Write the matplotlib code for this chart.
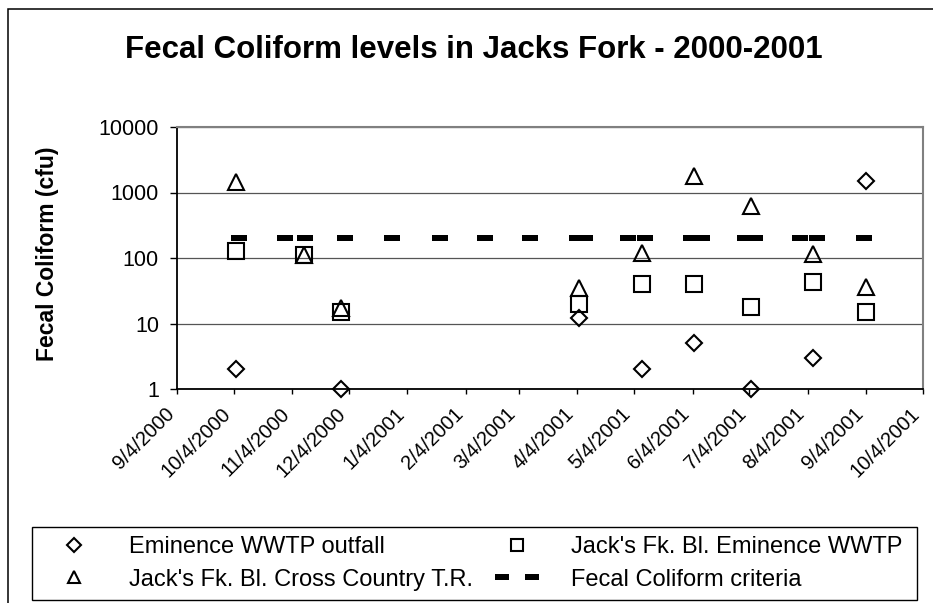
import matplotlib
matplotlib.use("Agg")
import matplotlib.pyplot as plt
from matplotlib.legend_handler import HandlerLine2D
from matplotlib.patches import Rectangle
from matplotlib.transforms import ScaledTranslation
import datetime as dt

plt.rcParams['font.family'] = ['Liberation Sans', 'DejaVu Sans']

# ---------------- data ----------------
sample_dates = ["2000-10-05", "2000-11-10", "2000-11-30", "2001-04-05", "2001-05-08",
                "2001-06-05", "2001-07-05", "2001-08-07", "2001-09-04"]
outfall_dates = ["2000-10-05", "2000-11-30", "2001-04-05", "2001-05-08",
                 "2001-06-05", "2001-07-05", "2001-08-07", "2001-09-04"]
outfall_vals = [2, 1, 12, 2, 5, 1, 3, 1500]
below_wwtp_vals = [130, 110, 15, 20, 40, 40, 18, 43, 15]
cross_country_vals = [1450, 110, 17, 35, 120, 1800, 620, 115, 36]
criteria_dates = ["2000-10-07", "2000-10-31", "2000-11-11", "2000-12-02", "2000-12-27",
                  "2001-01-21", "2001-02-14", "2001-03-10", "2001-04-04", "2001-04-08",
                  "2001-05-01", "2001-05-10", "2001-06-03", "2001-06-09", "2001-07-02",
                  "2001-07-07", "2001-07-31", "2001-08-09", "2001-09-03"]
criteria_vals = [200] * len(criteria_dates)
tick_dates = ["2000-09-04", "2000-10-04", "2000-11-04", "2000-12-04", "2001-01-04",
              "2001-02-04", "2001-03-04", "2001-04-04", "2001-05-04", "2001-06-04",
              "2001-07-04", "2001-08-04", "2001-09-04", "2001-10-04"]
tick_labels = ["9/4/2000", "10/4/2000", "11/4/2000", "12/4/2000", "1/4/2001",
               "2/4/2001", "3/4/2001", "4/4/2001", "5/4/2001", "6/4/2001",
               "7/4/2001", "8/4/2001", "9/4/2001", "10/4/2001"]
y_ticks = [1, 10, 100, 1000, 10000]
y_tick_labels = ["1", "10", "100", "1000", "10000"]
series_names = ["Eminence WWTP outfall", "Jack's Fk. Bl. Eminence WWTP",
                "Jack's Fk. Bl. Cross Country T.R.", "Fecal Coliform criteria"]

def d(s):
    return dt.datetime.strptime(s, "%Y-%m-%d")

W, H = 933, 603
fig = plt.figure(figsize=(W / 100, H / 100), dpi=100)
fig.patch.set_facecolor('white')

# outer chart frame
fig.add_artist(Rectangle((8 / W, -0.05), 1.1, 1 - 9 / H + 0.05, transform=fig.transFigure,
                         fill=False, edgecolor='black', linewidth=1.1, zorder=0))

ax = fig.add_axes([177 / W, 1 - 389 / H, (923 - 177) / W, (389 - 127) / H])
ax.set_yscale('log')
ax.set_ylim(1, 10000)
ax.set_xlim(d(tick_dates[0]), d(tick_dates[-1]))

ms_kw = dict(linestyle='none', markerfacecolor='none', markeredgecolor='black',
             markeredgewidth=1.5, clip_on=False, zorder=5)
h1, = ax.plot([d(s) for s in outfall_dates], outfall_vals, marker='D', markersize=8.5, **ms_kw)
h2, = ax.plot([d(s) for s in sample_dates], below_wwtp_vals, marker='s', markersize=12, **ms_kw)
h3, = ax.plot([d(s) for s in sample_dates], cross_country_vals, marker='^', markersize=12, **ms_kw)
dash = [(-1, -0.4), (1, -0.4), (1, 0.4), (-1, 0.4), (-1, -0.4)]
h4, = ax.plot([d(s) for s in criteria_dates], criteria_vals, linestyle='none', marker=dash,
              markersize=11.5, markerfacecolor='black', markeredgecolor='black',
              markeredgewidth=0, zorder=4)

ax.set_yticks(y_ticks)
ax.set_yticklabels(y_tick_labels)
ax.yaxis.set_minor_locator(matplotlib.ticker.NullLocator())
ax.grid(axis='y', which='major', color='#555555', linewidth=0.9)
ax.set_axisbelow(True)

ax.set_xticks([d(s) for s in tick_dates])
ax.set_xticklabels(tick_labels)
ax.tick_params(axis='y', direction='out', length=5, width=1, labelsize=15.5, pad=8)
ax.tick_params(axis='x', direction='out', length=3.6, width=1, labelsize=14.5, pad=12)
off = ScaledTranslation(-6 / 100, 0, fig.dpi_scale_trans)
for lab in ax.get_xticklabels():
    lab.set_rotation(45)
    lab.set_ha('right')
    lab.set_va('center')
    lab.set_rotation_mode('anchor')
    lab.set_transform(lab.get_transform() + off)

for s in ['left', 'bottom']:
    ax.spines[s].set_color('black')
    ax.spines[s].set_linewidth(1.3)
for s in ['top', 'right']:
    ax.spines[s].set_color('#808080')
    ax.spines[s].set_linewidth(1.5)

fig.text(474 / W, 1 - 58.5 / H, "Fecal Coliform levels in Jacks Fork - 2000-2001",
         ha='center', va='baseline', fontsize=22.5, fontweight='bold')
fig.text(48 / W, 1 - 254 / H, "Fecal Coliform (cfu)", rotation=90, ha='center', va='center',
         fontsize=16.5, fontweight='bold')

# legend: frame + two equal-width columns (Excel style)
leg_left, leg_top, leg_right, leg_bottom = 32, 527, 917, 600
fig.add_artist(Rectangle((leg_left / W, 1 - leg_bottom / H), (leg_right - leg_left) / W,
                         (leg_bottom - leg_top) / H, transform=fig.transFigure,
                         facecolor='white', edgecolor='black', linewidth=1.0, zorder=3))
col_w = (leg_right - leg_left) / 2
leg_fs = 17
leg_kw = dict(loc='upper left', bbox_transform=fig.transFigure, borderaxespad=0,
              fontsize=leg_fs, frameon=False, numpoints=1, borderpad=0,
              handlelength=1.9, handletextpad=1.35, labelspacing=0.45)
columns = [([h1, h3], [series_names[0], series_names[2]]),
           ([h2, h4], [series_names[1], series_names[3]])]
leg_sizes = [[6.8, 8.5], [8.5, 10.0]]
for i, (hs, labs) in enumerate(columns):
    x0 = leg_left + i * col_w + 20
    lg = fig.legend(hs, labs, bbox_to_anchor=(x0 / W, 1 - 536 / H),
                    handler_map={h4: HandlerLine2D(numpoints=2)}, **leg_kw)
    lg.set_zorder(4)
    for lh, sz in zip(lg.legend_handles, leg_sizes[i]):
        lh.set_markersize(sz)

fig.savefig("out.png", dpi=100)
